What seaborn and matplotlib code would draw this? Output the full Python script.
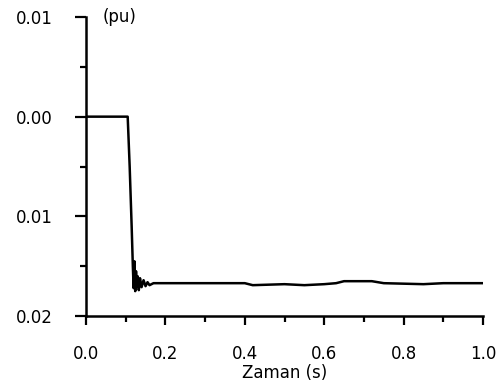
import matplotlib
matplotlib.use("Agg")
import matplotlib.pyplot as plt
import seaborn as sns
import pandas as pd
from matplotlib.ticker import FixedLocator, MultipleLocator

# data (time in s, value in pu)
time_s = [0.0, 0.105, 0.110, 0.115, 0.118, 0.120, 0.122, 0.124, 0.126, 0.128,
          0.130, 0.133, 0.136, 0.140, 0.145, 0.150, 0.155, 0.160, 0.170, 0.180,
          0.25, 0.35, 0.40, 0.42, 0.50, 0.55, 0.60, 0.63, 0.65, 0.72, 0.75,
          0.85, 0.90, 0.95, 1.0]
value_pu = [0.0, 0.0, -0.0050, -0.0110, -0.0150, -0.0172, -0.0145, -0.0175, -0.0155, -0.0170,
            -0.0160, -0.0174, -0.0162, -0.0171, -0.0164, -0.0170, -0.0166, -0.0169, -0.0167, -0.0167,
            -0.0167, -0.0167, -0.0167, -0.0169, -0.0168, -0.0169, -0.0168, -0.0167, -0.0165, -0.0165, -0.0167,
            -0.0168, -0.0167, -0.0167, -0.0167]

x_ticks = [0.0, 0.2, 0.4, 0.6, 0.8, 1.0]
x_tick_labels = ["0.0", "0.2", "0.4", "0.6", "0.8", "1.0"]
y_ticks = [0.01, 0.0, -0.01, -0.02]
y_tick_labels = ["0.01", "0.00", "0.01", "0.02"]

sns.set_style("ticks")
plt.rcParams['font.family'] = ['DejaVu Sans']
plt.rcParams['text.color'] = 'black'
plt.rcParams['axes.labelcolor'] = 'black'
plt.rcParams['xtick.color'] = 'black'
plt.rcParams['ytick.color'] = 'black'

df = pd.DataFrame({"t": time_s, "v": value_pu})

fig = plt.figure(figsize=(5, 3.85), dpi=100)
ax = fig.add_axes([0.172, 0.179, 0.794, 0.777])
sns.lineplot(data=df, x="t", y="v", ax=ax, color="black", linewidth=1.8, estimator=None, sort=False)

ax.set_xlim(0, 1.0)
ax.set_ylim(-0.02, 0.01)
ax.set_xticks(x_ticks)
ax.set_xticklabels(x_tick_labels, fontsize=12, color="black")
ax.set_yticks(y_ticks)
ax.set_yticklabels(y_tick_labels, fontsize=12, color="black")
ax.xaxis.set_minor_locator(MultipleLocator(0.1))
ax.yaxis.set_minor_locator(FixedLocator([0.005, -0.005, -0.015]))
ax.tick_params(axis="x", which="major", direction="out", length=6.5, width=1.6, color="black", pad=14)
ax.tick_params(axis="y", which="major", direction="out", length=8, width=1.6, color="black", pad=16)
ax.tick_params(axis="both", which="minor", direction="out", length=4, width=1.6, color="black")
for s in ["top", "right"]:
    ax.spines[s].set_visible(False)
for s in ["left", "bottom"]:
    ax.spines[s].set_linewidth(1.8)
    ax.spines[s].set_color("black")

ax.set_xlabel("Zaman (s)", fontsize=12, labelpad=1, color="black")
ax.set_ylabel("")
ax.text(0.043, 1.0, "(pu)", transform=ax.transAxes, fontsize=12, va="center", ha="left", color="black")

fig.savefig("out.png", dpi=100)
